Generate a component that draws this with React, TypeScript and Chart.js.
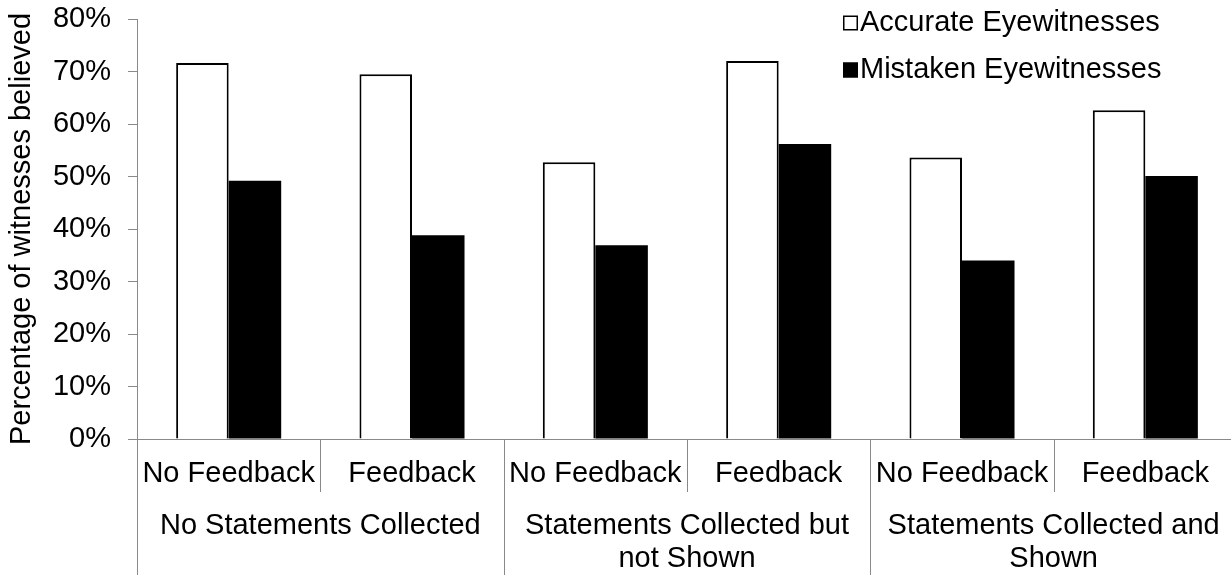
import React, { useEffect, useRef } from 'react';
import { Chart, registerables } from 'chart.js';

Chart.register(...registerables);

// ---------- data ----------
const subCategories = ['No Feedback', 'Feedback', 'No Feedback', 'Feedback', 'No Feedback', 'Feedback'];
const groupLabels = [
  ['No Statements Collected'],
  ['Statements Collected but', 'not Shown'],
  ['Statements Collected and', 'Shown'],
];
const groupSizes = [2, 2, 2];
const seriesNames = ['Accurate Eyewitnesses', 'Mistaken Eyewitnesses'];
const accurate = [71.6, 69.5, 52.7, 72.0, 53.6, 62.6];
const mistaken = [49.2, 38.8, 36.9, 56.2, 34.0, 50.1];
const yMin = 0;
const yMax = 80;
const yStep = 10;
const yTitle = 'Percentage of witnesses believed';

// ---------- style ----------
const FONT = '"Liberation Sans", Arial, Helvetica, sans-serif';
const FONT_SIZE = 29;
const AXIS = '#898989';
const CANVAS_W = 1240;
const CANVAS_H = 575;

const categoryAxisPlugin = {
  id: 'categoryAxis',
  afterDraw(chart: any) {
    const ctx = chart.ctx as CanvasRenderingContext2D;
    const xs = chart.scales.x;
    const area = chart.chartArea;
    const n = subCategories.length;
    const step = (xs.right - xs.left) / n;
    const groupBounds = new Set<number>();
    let acc = 0;
    groupBounds.add(0);
    groupSizes.forEach((s) => {
      acc += s;
      groupBounds.add(acc);
    });
    ctx.save();
    ctx.strokeStyle = AXIS;
    ctx.lineWidth = 1;
    for (let i = 0; i <= n; i++) {
      const bx = Math.round(xs.left + i * step) + 0.5;
      const y2 = groupBounds.has(i) ? chart.height : 492;
      ctx.beginPath();
      ctx.moveTo(bx, area.bottom);
      ctx.lineTo(bx, y2);
      ctx.stroke();
    }
    ctx.fillStyle = '#000';
    ctx.font = `${FONT_SIZE}px ${FONT}`;
    ctx.textAlign = 'center';
    ctx.textBaseline = 'middle';
    subCategories.forEach((lab, i) => {
      ctx.fillText(lab, xs.getPixelForValue(i), 474);
    });
    let start = 0;
    groupLabels.forEach((lines, g) => {
      const cx = xs.left + (start + groupSizes[g] / 2) * step;
      lines.forEach((line, k) => ctx.fillText(line, cx, 526 + k * 33));
      start += groupSizes[g];
    });
    ctx.restore();
  },
};

const legendPlugin = {
  id: 'customLegend',
  afterDraw(chart: any) {
    const ctx = chart.ctx as CanvasRenderingContext2D;
    const boxX = 843;
    const textX = 860;
    const rows = [23, 70];
    const box = 15;
    ctx.save();
    ctx.font = `${FONT_SIZE}px ${FONT}`;
    ctx.textAlign = 'left';
    ctx.textBaseline = 'middle';
    chart.data.datasets.forEach((ds: any, i: number) => {
      const cy = rows[i];
      ctx.fillStyle = ds.backgroundColor;
      ctx.fillRect(boxX, cy - box / 2, box, box);
      ctx.strokeStyle = '#000';
      ctx.lineWidth = 1.5;
      ctx.strokeRect(boxX + 0.75, cy - box / 2 + 0.75, box - 1.5, box - 1.5);
      ctx.fillStyle = '#000';
      ctx.fillText(ds.label, textX, cy);
    });
    ctx.restore();
  },
};

export default function App() {
  const ref = useRef<HTMLCanvasElement | null>(null);

  useEffect(() => {
    if (!ref.current) return;
    const chart = new Chart(ref.current, {
      type: 'bar',
      data: {
        labels: subCategories,
        datasets: [
          {
            label: seriesNames[0],
            data: accurate,
            backgroundColor: '#ffffff',
            borderColor: '#000000',
            borderWidth: 2,
            categoryPercentage: 0.573,
            barPercentage: 1,
          },
          {
            label: seriesNames[1],
            data: mistaken,
            backgroundColor: '#000000',
            borderColor: '#000000',
            borderWidth: 0,
            categoryPercentage: 0.573,
            barPercentage: 1,
          },
        ],
      },
      options: {
        responsive: false,
        animation: false,
        events: [],
        layout: { padding: { top: 19, right: 3, left: 0, bottom: 0 } },
        plugins: {
          legend: { display: false },
          tooltip: { enabled: false },
          title: { display: false },
        },
        scales: {
          x: {
            grid: { display: false },
            border: { display: true, color: AXIS, width: 1 },
            ticks: { display: false },
            afterFit: (scale: any) => {
              scale.height = 136;
              scale.paddingLeft = 0;
              scale.paddingRight = 0;
              scale.paddingTop = 0;
              scale.paddingBottom = 0;
            },
          },
          y: {
            min: yMin,
            max: yMax,
            grid: {
              display: true,
              drawOnChartArea: false,
              drawTicks: true,
              tickLength: 9,
              color: AXIS,
            },
            border: { display: true, color: AXIS, width: 1 },
            ticks: {
              stepSize: yStep,
              padding: 17,
              color: '#000',
              font: { family: FONT, size: FONT_SIZE },
              callback: (v: any) => `${v}%`,
            },
            title: {
              display: true,
              text: yTitle,
              color: '#000',
              font: { family: FONT, size: FONT_SIZE },
              padding: { top: 5, bottom: 0 },
            },
            afterFit: (scale: any) => {
              scale.width = 137;
              scale.paddingLeft = 0;
              scale.paddingRight = 0;
              scale.paddingTop = 0;
              scale.paddingBottom = 0;
            },
          },
        },
      },
      plugins: [categoryAxisPlugin, legendPlugin],
    });
    return () => chart.destroy();
  }, []);

  return (
    <div
      style={{
        position: 'absolute',
        left: 0,
        top: 0,
        width: 1231,
        height: 575,
        overflow: 'hidden',
        background: '#fff',
      }}
    >
      <canvas
        ref={ref}
        width={CANVAS_W}
        height={CANVAS_H}
        style={{ width: `${CANVAS_W}px`, height: `${CANVAS_H}px`, display: 'block' }}
      />
    </div>
  );
}
